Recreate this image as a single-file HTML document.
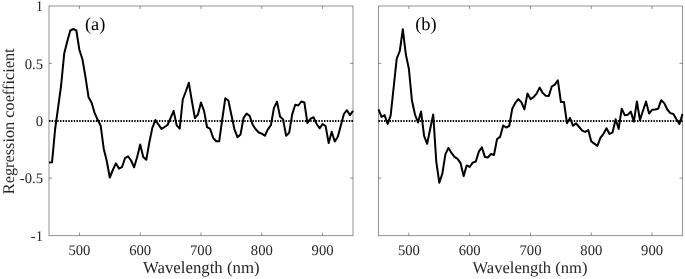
<!DOCTYPE html>
<html><head><meta charset="utf-8"><title>Regression coefficient</title>
<style>
html,body{margin:0;padding:0;background:#fff;}
svg{display:block;}
text{font-family:"Liberation Serif",serif;fill:#262626;text-rendering:geometricPrecision;}
.tk{font-size:14.67px;}
.lb{font-size:16.8px;}
.yl{font-size:16.3px;}
.pl{font-size:18.4px;fill:#000;}
</style></head><body>
<svg width="685" height="279" viewBox="0 0 685 279">
<rect width="685" height="279" fill="#fff"/>

<g fill="none" stroke="#262626" stroke-width="0.5">
<path d="M48.75 6.0H353.25M48.75 235.62H353.25M49.0 6.0V235.5M353.0 6.0V235.5"/>
<path d="M79.40 235.5v-3M79.40 6.0v3"/>
<path d="M140.20 235.5v-3M140.20 6.0v3"/>
<path d="M201.00 235.5v-3M201.00 6.0v3"/>
<path d="M261.80 235.5v-3M261.80 6.0v3"/>
<path d="M322.60 235.5v-3M322.60 6.0v3"/>
<path d="M49.0 63.38h3M353.0 63.38h-3"/>
<path d="M49.0 120.75h3M353.0 120.75h-3"/>
<path d="M49.0 178.12h3M353.0 178.12h-3"/>
</g>
<path d="M49.0 120.9H353.0" stroke="#000" stroke-width="2" stroke-dasharray="1.4 1.35" fill="none"/>
<polyline points="49.00,162.60 52.04,162.30 55.08,129.50 58.12,107.30 61.16,85.00 64.20,53.60 67.24,41.40 70.28,30.50 73.32,29.00 76.36,30.50 79.40,50.00 82.44,59.30 85.48,77.00 88.52,97.20 91.56,102.50 94.60,112.90 97.64,119.80 100.68,125.70 103.72,148.70 106.76,161.00 109.80,177.50 112.84,170.00 115.88,163.30 118.92,168.60 121.96,167.20 125.00,158.20 128.04,156.40 131.08,160.50 134.12,167.30 137.16,157.00 140.20,144.40 143.24,157.00 146.28,159.80 149.32,142.50 152.36,127.90 155.40,120.00 158.44,124.50 161.48,128.90 164.52,127.00 167.56,125.00 170.60,118.00 173.64,110.90 176.68,125.40 179.72,128.60 182.76,99.50 185.80,91.50 188.84,82.80 191.88,101.00 194.92,118.10 197.96,114.50 201.00,102.50 204.04,110.90 207.08,127.20 210.12,128.90 213.16,137.90 216.20,141.20 219.24,141.20 222.28,119.00 225.32,98.20 228.36,100.50 231.40,115.00 234.44,129.30 237.48,137.20 240.52,134.50 243.56,117.90 246.60,113.60 249.64,115.80 252.68,124.70 255.72,129.30 258.76,132.50 261.80,133.60 264.84,135.80 267.88,129.30 270.92,125.20 273.96,107.90 277.00,101.70 280.04,116.50 283.08,119.40 286.12,135.80 289.16,132.90 292.20,114.40 295.24,104.80 298.28,105.50 301.32,101.50 304.36,102.50 307.40,122.90 310.44,118.80 313.48,117.20 316.52,123.70 319.56,128.30 322.60,124.00 325.64,126.10 328.68,143.10 331.72,131.80 334.76,141.50 337.80,136.70 340.84,125.40 343.88,114.00 346.92,110.20 349.96,115.10 353.00,110.80" fill="none" stroke="#000" stroke-width="2" stroke-linejoin="round" stroke-linecap="butt"/>
<text class="tk" x="79.40" y="254.6" text-anchor="middle">500</text>
<text class="tk" x="140.20" y="254.6" text-anchor="middle">600</text>
<text class="tk" x="201.00" y="254.6" text-anchor="middle">700</text>
<text class="tk" x="261.80" y="254.6" text-anchor="middle">800</text>
<text class="tk" x="322.60" y="254.6" text-anchor="middle">900</text>
<text class="lb" style="font-size:16.8px" x="201.30" y="273" text-anchor="middle">Wavelength (nm)</text>
<text class="pl" x="85.0" y="30">(a)</text>
<g fill="none" stroke="#262626" stroke-width="0.5">
<path d="M378.25 6.0H682.75M378.25 235.62H682.75M378.5 6.0V235.5M682.5 6.0V235.5"/>
<path d="M408.90 235.5v-3M408.90 6.0v3"/>
<path d="M469.70 235.5v-3M469.70 6.0v3"/>
<path d="M530.50 235.5v-3M530.50 6.0v3"/>
<path d="M591.30 235.5v-3M591.30 6.0v3"/>
<path d="M652.10 235.5v-3M652.10 6.0v3"/>
<path d="M378.5 63.38h3M682.5 63.38h-3"/>
<path d="M378.5 120.75h3M682.5 120.75h-3"/>
<path d="M378.5 178.12h3M682.5 178.12h-3"/>
</g>
<path d="M378.5 120.9H682.5" stroke="#000" stroke-width="2" stroke-dasharray="1.4 1.35" fill="none"/>
<polyline points="378.50,109.40 381.54,116.80 384.58,115.10 387.62,124.00 390.66,115.30 393.70,87.00 396.74,58.60 399.78,51.00 402.82,29.30 405.86,54.50 408.90,69.00 411.94,100.50 414.98,114.50 418.02,122.50 421.06,111.50 424.10,135.90 427.14,143.80 430.18,129.00 433.22,114.40 436.26,161.50 439.30,182.70 442.34,173.60 445.38,154.30 448.42,147.80 451.46,152.90 454.50,156.90 457.54,158.90 460.58,163.20 463.62,176.10 466.66,165.50 469.70,166.90 472.74,162.60 475.78,161.50 478.82,151.70 481.86,147.40 484.90,156.90 487.94,157.40 490.98,154.00 494.02,155.00 497.06,139.00 500.10,136.90 503.14,125.50 506.18,127.50 509.22,126.00 512.26,108.70 515.30,102.90 518.34,99.10 521.38,102.20 524.42,109.40 527.46,93.60 530.50,99.10 533.54,97.20 536.58,93.60 539.62,87.60 542.66,92.90 545.70,95.80 548.74,96.10 551.78,86.50 554.82,84.70 557.86,80.40 560.90,101.90 563.94,101.90 566.98,123.20 570.02,117.90 573.06,125.80 576.10,123.40 579.14,127.00 582.18,130.60 585.22,131.90 588.26,130.10 591.30,141.40 594.34,143.60 597.38,145.90 600.42,137.90 603.46,133.80 606.50,128.20 609.54,134.00 612.58,132.30 615.62,119.20 618.66,129.00 621.70,108.70 624.74,115.20 627.78,114.70 630.82,111.60 633.86,121.60 636.90,101.50 639.94,120.00 642.98,110.70 646.02,101.50 649.06,113.50 652.10,109.80 655.14,109.50 658.18,108.70 661.22,100.20 664.26,103.10 667.30,109.50 670.34,113.10 673.38,114.00 676.42,119.20 679.46,124.00 682.50,114.00" fill="none" stroke="#000" stroke-width="2" stroke-linejoin="round" stroke-linecap="butt"/>
<text class="tk" x="408.90" y="254.6" text-anchor="middle">500</text>
<text class="tk" x="469.70" y="254.6" text-anchor="middle">600</text>
<text class="tk" x="530.50" y="254.6" text-anchor="middle">700</text>
<text class="tk" x="591.30" y="254.6" text-anchor="middle">800</text>
<text class="tk" x="652.10" y="254.6" text-anchor="middle">900</text>
<text class="lb" style="font-size:16.55px" x="530.00" y="273" text-anchor="middle">Wavelength (nm)</text>
<text class="pl" x="415.2" y="30">(b)</text>
<text class="tk" x="43" y="11.30" text-anchor="end">1</text>
<text class="tk" x="43" y="68.67" text-anchor="end">0.5</text>
<text class="tk" x="43" y="126.05" text-anchor="end">0</text>
<text class="tk" x="43" y="183.43" text-anchor="end">-0.5</text>
<text class="tk" x="43" y="240.80" text-anchor="end">-1</text>
<text class="yl" transform="translate(14 121.3) rotate(-90)" text-anchor="middle">Regression coefficient</text>
</svg></body></html>
